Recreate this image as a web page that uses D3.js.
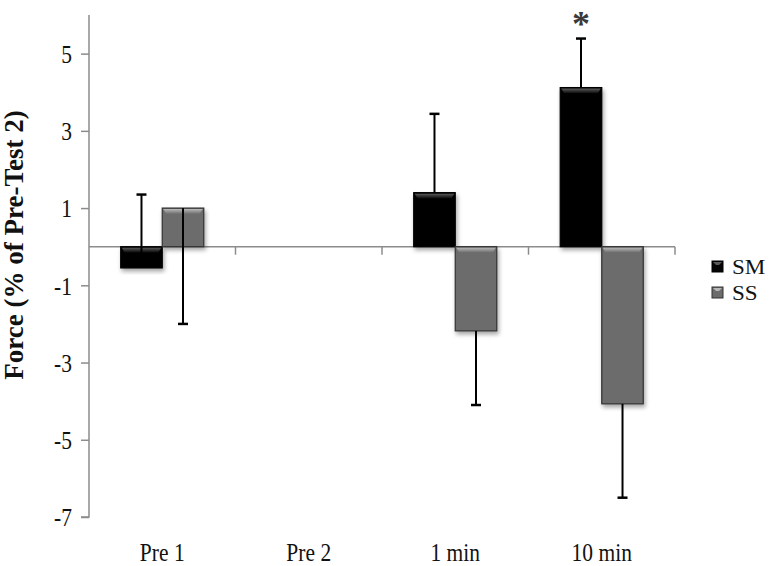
<!DOCTYPE html>
<html>
<head>
<meta charset="utf-8">
<script src="https://cdn.jsdelivr.net/npm/d3@7"></script>
<style>
  html, body { margin: 0; padding: 0; background: #fff; }
  svg { display: block; }
</style>
</head>
<body>
<svg id="chart" width="779" height="566"></svg>
<script>
// ---- data ----
const categories = ["Pre 1", "Pre 2", "1 min", "10 min"];
const seriesNames = ["SM", "SS"];
const smValues = [-0.55, null, 1.40, 4.12];
const smErrors = [1.90, null, 2.04, 1.27];
const ssValues = [1.00, null, -2.18, -4.07];
const ssErrors = [3.00, null, 1.92, 2.43];
const errDirection = [1, -1];           // SM error bars upward, SS downward
const yTicks = [-7, -5, -3, -1, 1, 3, 5];
const yTitle = "Force (% of Pre-Test 2)";
const significance = [null, null, null, "SM"];  // asterisk above SM at 10 min

(function () {
const svg = d3.select("#chart");
const mLeft = 89, mRight = 675, mTop = 15, mBottom = 517;

const y = d3.scaleLinear().domain([-7, 6]).range([mBottom, mTop]);
const x0 = d3.scaleBand().domain(categories).range([mLeft, mRight])
  .paddingInner(0.433).paddingOuter(0.2165);
const x1 = d3.scaleBand().domain(seriesNames).range([0, x0.bandwidth()]).padding(0);

const colors = { SM: "#050505", SS: "#6c6c6c" };
const strokes = { SM: "#000", SS: "#333" };
const bevelTop = { SM: "#5a5a5a", SS: "#b8b8b8" };
const font = "'Liberation Serif', 'Times New Roman', Times, serif";
const sx = 0.86;   // horizontal squeeze of the text, as in the reference

// defs
const defs = svg.append("defs");
const f = defs.append("filter").attr("id", "shadow").attr("x", "-20%").attr("y", "-20%").attr("width", "150%").attr("height", "150%");
f.append("feDropShadow").attr("dx", 1.5).attr("dy", 3).attr("stdDeviation", 2)
  .attr("flood-color", "#000").attr("flood-opacity", 0.35);
seriesNames.forEach(s => {
  const g = defs.append("linearGradient").attr("id", "bev" + s).attr("x1", 0).attr("y1", 0).attr("x2", 0).attr("y2", 1);
  g.append("stop").attr("offset", "0%").attr("stop-color", bevelTop[s]);
  g.append("stop").attr("offset", "100%").attr("stop-color", colors[s]);
});

// y axis
const yAxis = d3.axisLeft(y).tickValues(yTicks).tickSize(8).tickPadding(8).tickFormat(d => String(d));
const gy = svg.append("g").attr("transform", `translate(${mLeft},0)`).call(yAxis);
gy.select(".domain").attr("stroke", "#8c8c8c").attr("stroke-width", 1.5).attr("d", `M-8,${mBottom}H0V${mTop}`);
gy.selectAll(".tick line").attr("stroke", "#8c8c8c").attr("stroke-width", 1.5);
gy.selectAll(".tick text").attr("fill", "#111").attr("font-family", font)
  .attr("font-size", 25).attr("x", 0).attr("dy", "0.35em")
  .attr("transform", `translate(-17,0) scale(${sx},1)`);

// zero line with category boundary ticks
const zeroY = y(0);
svg.append("line").attr("x1", mLeft).attr("x2", mRight).attr("y1", zeroY).attr("y2", zeroY)
  .attr("stroke", "#8c8c8c").attr("stroke-width", 1.5);
const step = x0.step();
d3.range(1, categories.length + 1).forEach(i => {
  const bx = mLeft + i * step;
  svg.append("line").attr("x1", bx).attr("x2", bx).attr("y1", zeroY).attr("y2", zeroY + 8)
    .attr("stroke", "#8c8c8c").attr("stroke-width", 1.5);
});

// bars
const series = [
  { name: "SM", values: smValues, errors: smErrors, dir: errDirection[0] },
  { name: "SS", values: ssValues, errors: ssErrors, dir: errDirection[1] }
];
const barG = svg.append("g");
series.forEach(s => {
  categories.forEach((c, i) => {
    const v = s.values[i];
    if (v == null) return;
    const bx = x0(c) + x1(s.name);
    const bw = x1.bandwidth();
    const y0 = y(Math.max(0, v)), y1v = y(Math.min(0, v));
    const h = y1v - y0;
    const g = barG.append("g");
    g.append("rect").attr("x", bx).attr("y", y0).attr("width", bw).attr("height", h)
      .attr("fill", colors[s.name]).attr("stroke", strokes[s.name]).attr("stroke-width", 1.2)
      .attr("filter", "url(#shadow)");
    const bev = Math.min(6, h / 3);
    g.append("path")
      .attr("d", `M${bx + 1},${y0 + 1}H${bx + bw - 1}L${bx + bw - 4},${y0 + bev}H${bx + 4}Z`)
      .attr("fill", `url(#bev${s.name})`);
  });
});

// error bars
const errG = svg.append("g");
series.forEach(s => {
  categories.forEach((c, i) => {
    const v = s.values[i];
    if (v == null) return;
    const cx = x0(c) + x1(s.name) + x1.bandwidth() / 2;
    const end = v + s.dir * s.errors[i];
    errG.append("line").attr("x1", cx).attr("x2", cx).attr("y1", y(v)).attr("y2", y(end))
      .attr("stroke", "#000").attr("stroke-width", 2);
    errG.append("line").attr("x1", cx - 5).attr("x2", cx + 5).attr("y1", y(end)).attr("y2", y(end))
      .attr("stroke", "#000").attr("stroke-width", 2.5);
  });
});

// significance asterisk
significance.forEach((sName, i) => {
  if (!sName) return;
  const s = series.find(d => d.name === sName);
  const cx = x0(categories[i]) + x1(sName) + x1.bandwidth() / 2;
  const end = s.values[i] + s.dir * s.errors[i];
  svg.append("text").attr("x", cx).attr("y", y(end) - 3)
    .attr("text-anchor", "middle").attr("font-family", font).attr("font-weight", "bold")
    .attr("font-size", 36).attr("fill", "#3a3a3a").text("*");
});

// x labels
svg.append("g").selectAll("text").data(categories).join("text")
  .attr("transform", d => `translate(${x0(d) + x0.bandwidth() / 2},561) scale(${sx},1)`)
  .attr("text-anchor", "middle").attr("font-family", font)
  .attr("font-size", 25).attr("fill", "#111").text(d => d);

// y title
svg.append("text").attr("transform", `translate(23,245) rotate(-90)`)
  .attr("text-anchor", "middle").attr("font-family", font)
  .attr("font-weight", "bold").attr("font-size", 27).attr("fill", "#111").text(yTitle);

// legend
const lg = svg.append("g").attr("transform", "translate(712,261)");
seriesNames.forEach((s, i) => {
  const gy2 = i * 26;
  lg.append("rect").attr("x", 0).attr("y", gy2).attr("width", 11).attr("height", 11)
    .attr("fill", colors[s]).attr("stroke", strokes[s]).attr("stroke-width", 1);
  lg.append("path").attr("d", `M1,${gy2 + 1}H10L7,${gy2 + 4}H4Z`).attr("fill", bevelTop[s]);
  lg.append("text").attr("transform", `translate(20,${gy2 + 13}) scale(1.05,1)`).attr("font-family", font)
    .attr("font-size", 22).attr("fill", "#111").text(s);
});
})();
</script>
</body>
</html>
